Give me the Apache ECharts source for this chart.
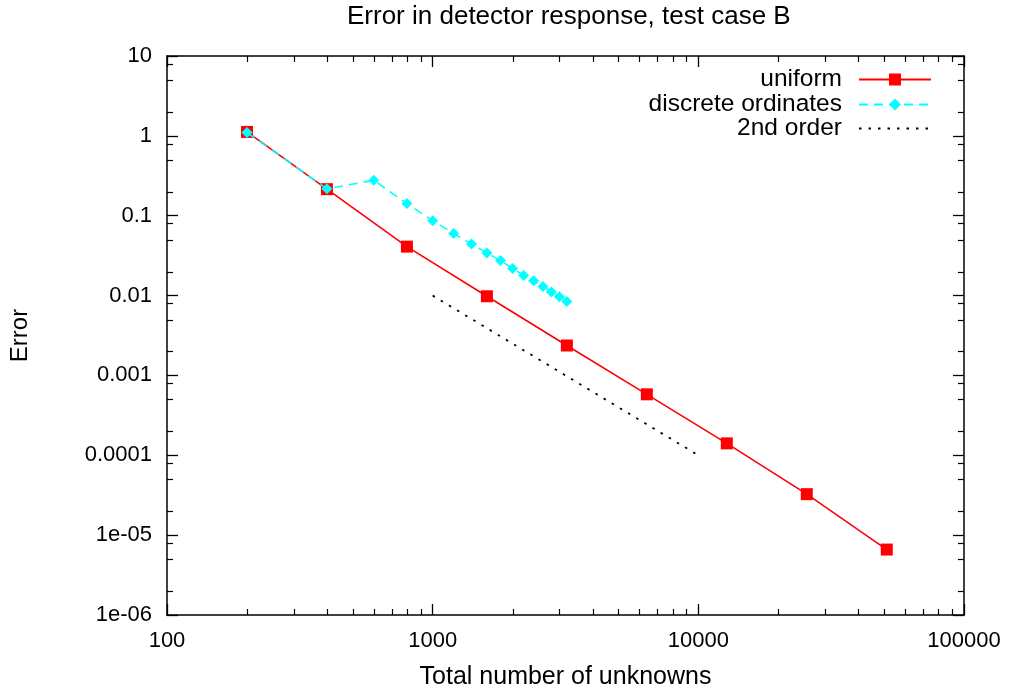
<!DOCTYPE html>
<html>
<head>
<meta charset="utf-8">
<title>Error in detector response, test case B</title>
<script src="https://cdn.jsdelivr.net/npm/echarts@6/dist/echarts.min.js"></script>
<style>
  html, body { margin: 0; padding: 0; background: #ffffff; }
  #chart { width: 1011px; height: 695px; }
</style>
</head>
<body>
<div id="chart"></div>
<script>
// Uniform refinement: total unknowns vs. error
const uniformN = [200, 400, 800, 1600, 3200, 6400, 12800, 25600, 51200];
const uniformErr = [1.12, 0.215, 0.041, 0.0098, 0.00237, 0.00058, 0.000141, 0.0000326, 0.0000066];

// Discrete ordinates refinement
const ordinatesN = [200, 400, 600, 800, 1000, 1200, 1400, 1600, 1800, 2000, 2200, 2400, 2600, 2800, 3000, 3200];
const ordinatesErr = [1.1, 0.217, 0.278, 0.142, 0.0866, 0.060, 0.0443, 0.0342, 0.0274, 0.0218, 0.0179, 0.0153, 0.0130, 0.0111, 0.0097, 0.0084];

// Reference slope line (second order)
const orderN = [1000, 10000];
const orderErr = [0.01, 0.0001];

// Tick labels, indexed by decade
const xTickLabels = ['100', '1000', '10000', '100000'];       // 10^2 .. 10^5
const yTickLabels = ['1e-06', '1e-05', '0.0001', '0.001', '0.01', '0.1', '1', '10']; // 10^-6 .. 10^1

const FONT = 'Liberation Sans, Arial, sans-serif';

// Minor tick positions on the log axes
const xMinor = [];
[100, 1000, 10000].forEach(d => { for (let m = 2; m <= 9; m++) xMinor.push(m * d); });
const yMinor = [];
[1e-6, 1e-5, 1e-4, 1e-3, 1e-2, 1e-1, 1].forEach(d => { [2, 5, 8].forEach(m => yMinor.push(m * d)); });

const pairs = (xs, ys) => xs.map((x, i) => [x, ys[i]]);

const chart = echarts.init(document.getElementById('chart'), null, { renderer: 'canvas' });

const axisLine = { show: true, lineStyle: { color: '#000', width: 1.5 } };
const majorTick = { show: true, inside: true, length: 11, lineStyle: { color: '#000', width: 1.3 } };

const legendCommon = {
  orient: 'horizontal',
  align: 'right',
  right: 79,
  padding: 0,
  itemWidth: 72,
  itemHeight: 15,
  selectedMode: false,
  textStyle: { fontFamily: FONT, fontSize: 24.5, color: '#000', padding: [0, 12, 0, 0] }
};

const option = {
  backgroundColor: '#ffffff',
  animation: false,
  title: {
    text: 'Error in detector response, test case B',
    left: 347,
    top: 0,
    padding: [4, 0, 4, 0],
    textStyle: { fontFamily: FONT, fontSize: 26, fontWeight: 'normal', color: '#000' }
  },
  legend: [
    Object.assign({}, legendCommon, { top: 67, data: ['uniform'] }),
    Object.assign({}, legendCommon, { top: 92, data: ['discrete ordinates'] }),
    Object.assign({}, legendCommon, {
      top: 116,
      data: [{ name: '2nd order', itemStyle: { color: 'rgba(0,0,0,0)', borderWidth: 0 } }]
    })
  ],
  grid: { left: 167, right: 47, top: 56, bottom: 79, containLabel: false },
  xAxis: [
    {
      type: 'log', logBase: 10, min: 100, max: 100000,
      position: 'bottom',
      name: 'Total number of unknowns',
      nameLocation: 'middle',
      nameGap: 50,
      nameTextStyle: { fontFamily: FONT, fontSize: 25, color: '#000' },
      axisLine: axisLine,
      axisTick: majorTick,
      splitLine: { show: false },
      axisLabel: {
        margin: 15,
        fontFamily: FONT, fontSize: 22, color: '#000',
        formatter: v => xTickLabels[Math.round(Math.log10(v)) - 2]
      }
    },
    {
      type: 'log', logBase: 10, min: 100, max: 100000,
      position: 'top',
      axisLine: axisLine,
      axisTick: majorTick,
      splitLine: { show: false },
      axisLabel: { show: false }
    }
  ],
  yAxis: [
    {
      type: 'log', logBase: 10, min: 1e-6, max: 10,
      position: 'left',
      name: 'Error',
      nameLocation: 'middle',
      nameGap: 135,
      nameTextStyle: { fontFamily: FONT, fontSize: 24, color: '#000' },
      axisLine: axisLine,
      axisTick: majorTick,
      splitLine: { show: false },
      axisLabel: {
        margin: 15,
        fontFamily: FONT, fontSize: 22, color: '#000',
        formatter: v => yTickLabels[Math.round(Math.log10(v)) + 6]
      }
    },
    {
      type: 'log', logBase: 10, min: 1e-6, max: 10,
      position: 'right',
      axisLine: axisLine,
      axisTick: majorTick,
      splitLine: { show: false },
      axisLabel: { show: false }
    }
  ],
  series: [
    {
      name: 'uniform',
      type: 'line',
      data: pairs(uniformN, uniformErr),
      symbol: 'rect',
      symbolSize: 12,
      showAllSymbol: true,
      itemStyle: { color: '#ff0000' },
      lineStyle: { color: '#ff0000', width: 1.6 },
      z: 3
    },
    {
      name: 'discrete ordinates',
      type: 'line',
      data: pairs(ordinatesN, ordinatesErr),
      symbol: 'diamond',
      symbolSize: 11,
      showAllSymbol: true,
      itemStyle: { color: '#00ffff' },
      lineStyle: { color: '#00ffff', width: 1.6, type: [9, 6] },
      z: 4
    },
    {
      name: '2nd order',
      type: 'line',
      data: pairs(orderN, orderErr),
      symbol: 'none',
      itemStyle: { color: '#000000' },
      lineStyle: { color: '#000000', width: 1.8, type: [2.5, 7] },
      z: 2
    },
    {
      // minor ticks on all four sides of the frame
      name: 'minorTicks',
      type: 'custom',
      silent: true,
      z: 5,
      data: [[1000, 1]],
      renderItem: function (params, api) {
        const cs = params.coordSys;
        const left = cs.x, right = cs.x + cs.width, top = cs.y, bottom = cs.y + cs.height;
        const len = 6;
        const style = { stroke: '#000', lineWidth: 1.2 };
        const children = [];
        xMinor.forEach(v => {
          const px = Math.round(api.coord([v, 1])[0]) + 0.5;
          children.push({ type: 'line', shape: { x1: px, y1: bottom, x2: px, y2: bottom - len }, style });
          children.push({ type: 'line', shape: { x1: px, y1: top, x2: px, y2: top + len }, style });
        });
        yMinor.forEach(v => {
          const py = Math.round(api.coord([1000, v])[1]) + 0.5;
          children.push({ type: 'line', shape: { x1: left, y1: py, x2: left + len, y2: py }, style });
          children.push({ type: 'line', shape: { x1: right, y1: py, x2: right - len, y2: py }, style });
        });
        return { type: 'group', children };
      }
    }
  ]
};

chart.setOption(option);
</script>
</body>
</html>
